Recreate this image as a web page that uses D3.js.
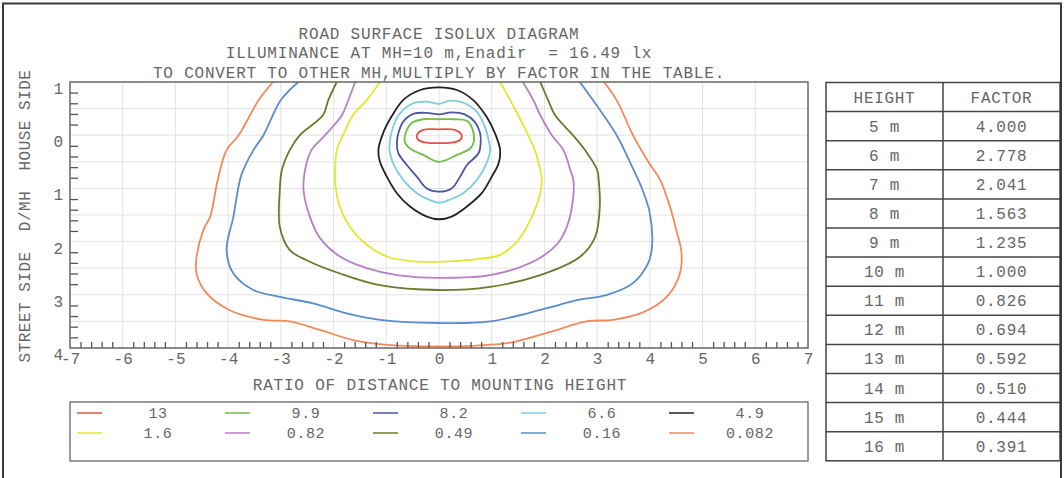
<!DOCTYPE html>
<html>
    <head>
        <meta charset="utf-8" />
        <title>Road Surface Isolux Diagram</title>
        <script src="https://d3js.org/d3.v7.min.js"></script>
        <style>
            body {
                margin: 0px;
                background: white;
            }

            text {
                font-family: "Liberation Mono", monospace;
                fill: #666;
                white-space: pre;
            }

            .tick line {
                stroke: #555;
            }

            .domain {
                stroke: #555;
            }
        </style>
    </head>
    <body>
        <svg id="chart">
            <g id="grid"></g>
            <g id="shapes"></g>
            <g id="x"></g>
            <g id="xlabels"></g>
            <g id="y"></g>
            <g id="ylabels"></g>
            <g id="legend"></g>
            <g id="table"></g>
        </svg>
        <script>

        var width = 1064;
        var height = 478;
        var margin = {
            top: 82,
            right: 256,
            bottom: 130,
            left: 70
        };

        // chart data
        var titleLines = [
            "ROAD SURFACE ISOLUX DIAGRAM",
            "ILLUMINANCE AT MH=10 m,Enadir  = 16.49 lx",
            "TO CONVERT TO OTHER MH,MULTIPLY BY FACTOR IN THE TABLE."
        ];
        var xTicks = [-7, -6, -5, -4, -3, -2, -1, 0, 1, 2, 3, 4, 5, 6, 7];
        var yTicks = [-1, 0, 1, 2, 3, 4];
        var yTickLabels = ["1", "0", "1", "2", "3", "4"];

        var levels = ["13", "9.9", "8.2", "6.6", "4.9", "1.6", "0.82", "0.49", "0.16", "0.082"];
        var colors = ["#e05548", "#6fbd4a", "#4b55a0", "#7fcbe2", "#222222",
                      "#e6e62c", "#b77fc6", "#6b7a2c", "#5b8ccb", "#f08a5b"];

        var heights = ["5 m", "6 m", "7 m", "8 m", "9 m", "10 m", "11 m", "12 m", "13 m", "14 m", "15 m", "16 m"];
        var factors = ["4.000", "2.778", "2.041", "1.563", "1.235", "1.000", "0.826", "0.694", "0.592", "0.510", "0.444", "0.391"];

        // isolux lines, [distance/MH, d/MH (house side negative)]
        var c13 = [[0,-0.11],[-0.30,-0.10],[-0.42,0.0],[-0.39,0.09],[-0.23,0.14],[0,0.15],[0.24,0.14],[0.40,0.09],[0.43,0.0],[0.30,-0.10]];
        var c99 = [[0,-0.30],[-0.30,-0.30],[-0.52,-0.23],[-0.61,-0.10],[-0.65,0.12],[-0.55,0.25],[-0.30,0.37],[0,0.50],[0.34,0.37],[0.59,0.25],[0.66,0.12],[0.64,-0.10],[0.53,-0.27],[0.27,-0.30]];
        var c82 = [[0,-0.39],[-0.23,-0.42],[-0.49,-0.40],[-0.68,-0.25],[-0.77,-0.04],[-0.80,0.15],[-0.77,0.34],[-0.61,0.56],[-0.42,0.78],[-0.23,1.0],[0,1.06],[0.24,1.0],[0.40,0.78],[0.53,0.56],[0.75,0.34],[0.79,0.15],[0.78,-0.04],[0.68,-0.25],[0.49,-0.39],[0.24,-0.43]];
        var c66 = [[0,-0.59],[-0.23,-0.63],[-0.49,-0.60],[-0.74,-0.41],[-0.87,-0.16],[-0.93,0.09],[-0.94,0.28],[-0.87,0.53],[-0.68,0.84],[-0.42,1.09],[-0.17,1.22],[0,1.27],[0.18,1.22],[0.46,1.09],[0.72,0.84],[0.90,0.53],[0.97,0.28],[0.94,0.09],[0.87,-0.16],[0.72,-0.44],[0.46,-0.61],[0.21,-0.65]];
        var c49 = [[0,-0.90],[-0.36,-0.85],[-0.68,-0.66],[-0.90,-0.35],[-1.06,-0.04],[-1.15,0.28],[-1.12,0.50],[-0.99,0.78],[-0.80,1.09],[-0.55,1.34],[-0.23,1.53],[0,1.58],[0.24,1.53],[0.53,1.34],[0.81,1.09],[1.0,0.78],[1.13,0.53],[1.16,0.28],[1.06,-0.04],[0.90,-0.35],[0.65,-0.66],[0.34,-0.85]];
        var c16 = [[-1.12,-1],[-1.37,-0.66],[-1.63,-0.38],[-1.82,0],[-1.94,0.28],[-1.97,0.65],[-1.97,0.9],[-1.88,1.35],[-1.69,1.72],[-1.37,2.06],[-0.99,2.28],[-0.49,2.37],[0,2.38],[0.72,2.33],[1.16,2.25],[1.48,2.0],[1.76,1.54],[1.92,1.09],[1.95,0.85],[1.92,0.65],[1.82,0.28],[1.69,0],[1.5,-0.38],[1.35,-0.66],[1.16,-1]];
        var c082 = [[-1.59,-1],[-1.72,-0.66],[-1.84,-0.38],[-2.16,0],[-2.42,0.28],[-2.54,0.65],[-2.57,1.03],[-2.45,1.53],[-2.26,1.93],[-1.88,2.28],[-1.37,2.5],[-0.8,2.63],[0,2.68],[0.97,2.63],[1.78,2.38],[2.24,2.05],[2.43,1.71],[2.54,1.22],[2.55,0.85],[2.49,0.65],[2.36,0.28],[2.14,0],[1.92,-0.38],[1.79,-0.66],[1.59,-1]];
        var c049 = [[-1.94,-1],[-2.1,-0.66],[-2.2,-0.38],[-2.64,0],[-2.83,0.28],[-2.98,0.65],[-3.02,1.03],[-3.02,1.72],[-2.83,2.16],[-2.51,2.35],[-1.88,2.6],[-1.12,2.82],[0,2.91],[0.97,2.85],[1.92,2.63],[2.67,2.29],[2.96,1.92],[3.05,1.35],[3.03,0.85],[3.0,0.65],[2.77,0.28],[2.54,0],[2.2,-0.38],[2.07,-0.66],[1.92,-1]];
        var c016 = [[-2.67,-1],[-3.0,-0.66],[-3.33,0],[-3.52,0.28],[-3.75,0.75],[-3.9,1.53],[-4.03,2.16],[-3.9,2.6],[-3.52,2.91],[-3.02,3.04],[-2.39,3.16],[-1.75,3.35],[-1.12,3.47],[0,3.53],[0.97,3.5],[2.05,3.25],[2.62,3.1],[3.19,3.0],[3.68,2.78],[3.97,2.4],[4.04,2.1],[4.0,1.47],[3.85,1.0],[3.62,0.5],[3.37,0],[2.92,-0.66],[2.67,-1]];
        var c0082 = [[-3.15,-1],[-3.42,-0.66],[-3.8,0],[-4.03,0.28],[-4.2,0.85],[-4.34,1.53],[-4.47,1.78],[-4.6,2.3],[-4.6,2.6],[-4.41,2.97],[-3.97,3.29],[-3.33,3.47],[-2.83,3.5],[-2.26,3.66],[-1.63,3.85],[-0.99,3.94],[0,3.97],[0.6,3.96],[1.35,3.9],[2.1,3.7],[2.8,3.5],[3.3,3.47],[3.87,3.33],[4.32,3.04],[4.57,2.6],[4.6,2.2],[4.5,1.78],[4.42,1.47],[4.32,1.16],[4.2,0.85],[3.97,0.5],[3.68,0],[3.37,-0.66],[3.13,-1]];

        var contours = [
            {level: "13", points: c13, closed: true},
            {level: "9.9", points: c99, closed: true},
            {level: "8.2", points: c82, closed: true},
            {level: "6.6", points: c66, closed: true},
            {level: "4.9", points: c49, closed: true},
            {level: "1.6", points: c16, closed: false},
            {level: "0.82", points: c082, closed: false},
            {level: "0.49", points: c049, closed: false},
            {level: "0.16", points: c016, closed: false},
            {level: "0.082", points: c0082, closed: false}
        ];

        var chartWidth = width - margin.left - margin.right;
        var chartHeight = height - margin.top - margin.bottom;
        var cx = margin.left + chartWidth / 2;

        var svg = d3.select("#chart")
            .attr("width", width)
            .attr("height", height);

        var x = d3.scaleLinear()
            .domain([-7, 7])
            .range([margin.left, margin.left + chartWidth]);

        var y = d3.scaleLinear()
            .domain([-1, 4])
            .range([margin.top, margin.top + chartHeight]);

        var color = d3.scaleOrdinal()
            .domain(levels)
            .range(colors);

        // outer frame
        svg.append("rect")
            .attr("x", 3)
            .attr("y", 3.5)
            .attr("width", 1058)
            .attr("height", 480)
            .attr("fill", "none")
            .attr("stroke", "#3a3a3a")
            .attr("stroke-width", 2);

        // title
        svg.append("g").selectAll("text")
            .data(titleLines)
            .enter().append("text")
            .attr("x", cx)
            .attr("y", function(d, i) {
                return 38.5 + i * 19.5;
            })
            .attr("text-anchor", "middle")
            .style("font-size", "16px")
            .style("letter-spacing", "0.8px")
            .text(function(d) {
                return d;
            });

        // grid
        var grid = svg.select("#grid");
        grid.selectAll(".vgrid")
            .data(xTicks.slice(1, -1))
            .enter().append("line")
            .attr("class", "vgrid")
            .attr("x1", function(d) { return x(d); })
            .attr("x2", function(d) { return x(d); })
            .attr("y1", y(-1))
            .attr("y2", y(4))
            .attr("stroke", "#e2e2e2");

        grid.selectAll(".hgrid")
            .data(d3.range(-0.5, 4, 0.5))
            .enter().append("line")
            .attr("class", "hgrid")
            .attr("x1", x(-7))
            .attr("x2", x(7))
            .attr("y1", function(d) { return y(d); })
            .attr("y2", function(d) { return y(d); })
            .attr("stroke", "#e2e2e2");

        // isolux lines
        svg.append("clipPath")
            .attr("id", "clip")
            .append("rect")
            .attr("x", x(-7))
            .attr("y", y(-1))
            .attr("width", chartWidth)
            .attr("height", chartHeight);

        var openLine = d3.line()
            .x(function(d) { return x(d[0]); })
            .y(function(d) { return y(d[1]); })
            .curve(d3.curveCatmullRom);

        var closedLine = d3.line()
            .x(function(d) { return x(d[0]); })
            .y(function(d) { return y(d[1]); })
            .curve(d3.curveCatmullRomClosed);

        svg.select("#shapes")
            .attr("clip-path", "url(#clip)")
            .selectAll("path")
            .data(contours)
            .enter().append("path")
            .attr("d", function(d) {
                return d.closed ? closedLine(d.points) : openLine(d.points);
            })
            .attr("fill", "none")
            .attr("stroke", function(d) {
                return color(d.level);
            })
            .attr("stroke-width", 1.8);

        // plot frame
        svg.append("rect")
            .attr("x", x(-7))
            .attr("y", y(-1))
            .attr("width", chartWidth)
            .attr("height", chartHeight)
            .attr("fill", "none")
            .attr("stroke", "#666")
            .attr("stroke-width", 1.5);

        // minor ticks (no ticks at whole numbers)
        var minorX = d3.range(-70, 70, 2).filter(function(d) { return d % 10 !== 0; })
            .map(function(d) { return d / 10; });
        var minorY = d3.range(-10, 40, 2).filter(function(d) { return d % 10 !== 0; })
            .map(function(d) { return d / 10; });

        var xAxis = d3.axisTop(x)
            .tickValues(minorX)
            .tickSize(6)
            .tickSizeOuter(0)
            .tickFormat("");
        svg.select("#x")
            .attr("transform", "translate(0, " + y(4) + ")")
            .call(xAxis);

        var xLabels = d3.axisBottom(x)
            .tickValues(xTicks)
            .tickSize(0)
            .tickPadding(5)
            .tickFormat(function(d) { return String(d); });
        svg.select("#xlabels")
            .attr("transform", "translate(0, " + y(4) + ")")
            .call(xLabels);

        var yAxis = d3.axisRight(y)
            .tickValues(minorY)
            .tickSize(8)
            .tickSizeOuter(0)
            .tickFormat("");
        svg.select("#y")
            .attr("transform", "translate(" + x(-7) + ", 0)")
            .call(yAxis);

        var yLabels = d3.axisLeft(y)
            .tickValues(yTicks)
            .tickSize(0)
            .tickPadding(7)
            .tickFormat(function(d, i) { return yTickLabels[i]; });
        svg.select("#ylabels")
            .attr("transform", "translate(" + x(-7) + ", 0)")
            .call(yLabels);

        svg.selectAll("#x .domain, #xlabels .domain, #y .domain, #ylabels .domain").remove();
        svg.selectAll("#xlabels text, #ylabels text")
            .style("font-size", "16px")
            .style("font-family", "Liberation Mono")
            .attr("fill", "#666");
        svg.selectAll("#ylabels text").attr("dy", "0.72em");
        svg.selectAll("#x line, #y line").attr("stroke-width", 1.3);

        // axis titles
        svg.append("text")
            .attr("x", cx + 1)
            .attr("y", 390)
            .attr("text-anchor", "middle")
            .style("font-size", "16px")
            .style("letter-spacing", "0.8px")
            .text("RATIO OF DISTANCE TO MOUNTING HEIGHT");

        svg.append("text")
            .attr("transform", "translate(30, 216) rotate(-90)")
            .attr("text-anchor", "middle")
            .style("font-size", "16px")
            .style("letter-spacing", "0.5px")
            .text("STREET SIDE  D/MH  HOUSE SIDE");

        // legend
        var legend = svg.select("#legend");
        legend.append("rect")
            .attr("x", x(-7))
            .attr("y", 402)
            .attr("width", chartWidth)
            .attr("height", 59)
            .attr("fill", "none")
            .attr("stroke", "#666")
            .attr("stroke-width", 1.3);

        var item = legend.selectAll(".item")
            .data(levels)
            .enter().append("g")
            .attr("class", "item")
            .attr("transform", function(d, i) {
                return "translate(" + (77 + (i % 5) * 148) + ", " + (413 + Math.floor(i / 5) * 20) + ")";
            });

        item.append("line")
            .attr("x1", 0)
            .attr("x2", 25)
            .attr("stroke", function(d) { return color(d); })
            .attr("stroke-width", 1.5);

        item.append("text")
            .attr("x", 81)
            .attr("y", 5)
            .attr("text-anchor", "middle")
            .style("font-size", "15px")
            .style("letter-spacing", "0.6px")
            .text(function(d) { return d; });

        // factor table
        var tableX = [826, 943, 1060];
        var rowH = 29.1;
        var tableTop = 82.5;
        var rows = [["HEIGHT", "FACTOR"]].concat(heights.map(function(h, i) {
            return [h, factors[i]];
        }));

        var table = svg.select("#table");
        table.append("rect")
            .attr("x", tableX[0])
            .attr("y", tableTop)
            .attr("width", tableX[2] - tableX[0])
            .attr("height", rowH * rows.length)
            .attr("fill", "none")
            .attr("stroke", "#444")
            .attr("stroke-width", 1.5);

        table.append("line")
            .attr("x1", tableX[1])
            .attr("x2", tableX[1])
            .attr("y1", tableTop)
            .attr("y2", tableTop + rowH * rows.length)
            .attr("stroke", "#444")
            .attr("stroke-width", 1.5);

        table.selectAll(".rowline")
            .data(d3.range(1, rows.length))
            .enter().append("line")
            .attr("class", "rowline")
            .attr("x1", tableX[0])
            .attr("x2", tableX[2])
            .attr("y1", function(d) { return tableTop + d * rowH; })
            .attr("y2", function(d) { return tableTop + d * rowH; })
            .attr("stroke", "#444")
            .attr("stroke-width", 1.5);

        var row = table.selectAll(".row")
            .data(rows)
            .enter().append("g")
            .attr("class", "row")
            .attr("transform", function(d, i) {
                return "translate(0, " + (tableTop + i * rowH + rowH / 2 + 5.5) + ")";
            });

        row.selectAll("text")
            .data(function(d) { return d; })
            .enter().append("text")
            .attr("x", function(d, i) {
                return (tableX[i] + tableX[i + 1]) / 2;
            })
            .attr("text-anchor", "middle")
            .style("font-size", "16px")
            .style("letter-spacing", "0.7px")
            .text(function(d) { return d; });

        </script>
    </body>
</html>
